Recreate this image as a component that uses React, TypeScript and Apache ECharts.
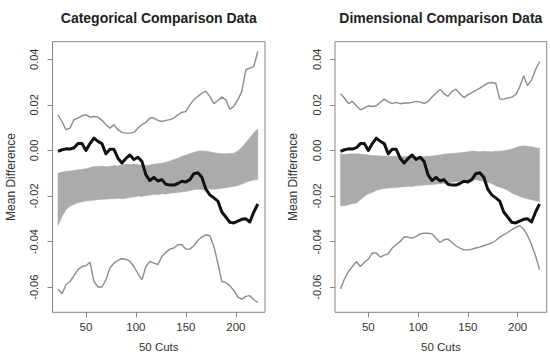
import React, { useEffect, useRef } from "react";
import * as echarts from "echarts";

// Cut positions shared by every series
const cuts = [
  22, 26, 30, 34, 38, 42, 46, 50, 54, 58, 62, 66, 70, 74, 78, 82, 86, 90, 94, 98,
  102, 106, 110, 114, 118, 122, 126, 130, 134, 138, 142, 146, 150, 154, 158, 162,
  166, 170, 174, 178, 182, 186, 190, 194, 198, 202, 206, 210, 214, 218, 222,
];

// Observed mean difference (thick black line, same in both panels)
const observedDiff = [
  -0.0004, 0.0003, 0.0007, 0.0006, 0.0012, 0.003, 0.003, 0.0, 0.003, 0.0054,
  0.004, 0.003, -0.0015, 0.0005, 0.0005, -0.0034, -0.0055, -0.0035, -0.002, -0.004,
  -0.003, -0.0048, -0.0107, -0.0132, -0.0118, -0.0134, -0.0128, -0.0148, -0.0152, -0.0152,
  -0.0145, -0.0135, -0.0138, -0.0128, -0.0102, -0.0098, -0.0118, -0.017, -0.0195, -0.0208,
  -0.0222, -0.027, -0.0292, -0.0315, -0.0318, -0.031, -0.0302, -0.03, -0.0314, -0.027,
  -0.0235,
];

// Categorical panel
const catBandHigh = [
  -0.01, -0.0095, -0.0092, -0.009, -0.0088, -0.0085, -0.0083, -0.008, -0.0075, -0.007,
  -0.007, -0.0068, -0.0072, -0.007, -0.0066, -0.0068, -0.0064, -0.006, -0.0062, -0.006,
  -0.0062, -0.0065, -0.0066, -0.0064, -0.006, -0.0058, -0.0056, -0.0052, -0.0046, -0.004,
  -0.0034, -0.0026, -0.002, -0.0014, -0.0008, -0.0004, -0.0002, -0.0003, -0.0006, -0.001,
  -0.0012, -0.0014, -0.0014, -0.0013, -0.0012, -0.0002, 0.0014, 0.0034, 0.0056, 0.0078,
  0.0095,
];
const catBandLow = [
  -0.033, -0.029, -0.026, -0.0245, -0.0236, -0.023, -0.0225, -0.0222, -0.022, -0.0218,
  -0.0216, -0.0214, -0.0214, -0.0212, -0.0212, -0.021, -0.0212, -0.021, -0.0206, -0.0204,
  -0.02, -0.0202, -0.0198, -0.0196, -0.0192, -0.0194, -0.019, -0.0192, -0.0188, -0.0186,
  -0.0184, -0.0182, -0.018, -0.0176, -0.0172, -0.017, -0.0172, -0.0168, -0.017, -0.017,
  -0.0168, -0.0166, -0.0164, -0.016, -0.0158, -0.0154, -0.0148, -0.014, -0.0134, -0.013,
  -0.0128,
];
const catUpper = [
  0.0156, 0.0127, 0.0091, 0.0098, 0.0135, 0.0142, 0.0152, 0.0156, 0.0146, 0.0149,
  0.0146, 0.0132, 0.0113, 0.0098, 0.0113, 0.0091, 0.0079, 0.0076, 0.0076, 0.0079,
  0.0098, 0.0113, 0.0123, 0.0142, 0.0142, 0.0132, 0.0127, 0.0132, 0.0135, 0.0142,
  0.0156, 0.0167, 0.0171, 0.02, 0.0222, 0.0237, 0.0251, 0.0259, 0.0237, 0.0205,
  0.0219, 0.0234, 0.0222, 0.0181, 0.0193, 0.0222, 0.0259, 0.0354, 0.0361, 0.0368,
  0.0434,
];
const catLower = [
  -0.0608, -0.0629, -0.0589, -0.0575, -0.055, -0.0523, -0.0509, -0.0506, -0.049, -0.0575,
  -0.0599, -0.0599, -0.0567, -0.0516, -0.0494, -0.0482, -0.0475, -0.0477, -0.0487, -0.0509,
  -0.0541, -0.0567, -0.0509, -0.0487, -0.0494, -0.0501, -0.0465, -0.0447, -0.0433, -0.0428,
  -0.0414, -0.0414, -0.0433, -0.0433, -0.0418, -0.0395, -0.038, -0.037, -0.0374, -0.0421,
  -0.0494, -0.0575, -0.0579, -0.0594, -0.0614, -0.0643, -0.0652, -0.064, -0.0637, -0.0655,
  -0.0667,
];

// Dimensional panel
const dimBandHigh = [
  -0.0016, -0.0018, -0.0016, -0.0015, -0.0014, -0.0016, -0.0018, -0.002, -0.0022, -0.0022,
  -0.0024, -0.0024, -0.0026, -0.0025, -0.0026, -0.0027, -0.0028, -0.0026, -0.0027, -0.0028,
  -0.0026, -0.0027, -0.0026, -0.0024, -0.0022, -0.002, -0.0016, -0.0014, -0.0013, -0.0012,
  -0.001, -0.0008, -0.0006, -0.0002, -0.0004, -0.0006, -0.0004, -0.0005, -0.0006, -0.0004,
  -0.0003, -0.0001, 0.0002, 0.0006, 0.0012, 0.0018, 0.002, 0.0018, 0.0016, 0.0012,
  0.001,
];
const dimBandLow = [
  -0.0243, -0.0243, -0.0238, -0.0234, -0.0231, -0.0216, -0.0202, -0.019, -0.0184, -0.0175,
  -0.017, -0.0167, -0.0165, -0.0164, -0.0162, -0.0161, -0.0159, -0.0158, -0.0158, -0.0155,
  -0.0154, -0.0152, -0.0151, -0.0149, -0.0148, -0.0146, -0.0145, -0.0143, -0.014, -0.0137,
  -0.0136, -0.0135, -0.0132, -0.0129, -0.0129, -0.0132, -0.0136, -0.014, -0.0146, -0.0155,
  -0.0161, -0.0167, -0.0175, -0.0187, -0.0194, -0.0202, -0.0208, -0.0212, -0.0216, -0.0221,
  -0.0225,
];
const dimUpper = [
  0.0249, 0.023, 0.0205, 0.0215, 0.0196, 0.0178, 0.0186, 0.0196, 0.0193, 0.0196,
  0.0211, 0.0225, 0.0213, 0.0205, 0.0211, 0.0205, 0.0208, 0.0208, 0.0211, 0.0215,
  0.0213, 0.0205, 0.0215, 0.0234, 0.0251, 0.0269, 0.0249, 0.0237, 0.0259, 0.0269,
  0.0249, 0.0232, 0.0244, 0.0254, 0.0263, 0.0273, 0.0284, 0.0295, 0.0298, 0.0295,
  0.0225, 0.0225, 0.023, 0.0234, 0.0244, 0.0278, 0.0327, 0.0284, 0.031, 0.0354,
  0.039,
];
const dimLower = [
  -0.0608, -0.0564, -0.0531, -0.0509, -0.0487, -0.0509, -0.0491, -0.0477, -0.045, -0.045,
  -0.0468, -0.0459, -0.0453, -0.0428, -0.0414, -0.0399, -0.038, -0.038, -0.0385, -0.0377,
  -0.0366, -0.0363, -0.0363, -0.0366, -0.0385, -0.0404, -0.0392, -0.0389, -0.0404, -0.0418,
  -0.0428, -0.0436, -0.0436, -0.0433, -0.0428, -0.0424, -0.0418, -0.0412, -0.0406, -0.0395,
  -0.038, -0.037, -0.036, -0.0348, -0.0338, -0.033, -0.0345, -0.0374, -0.0414, -0.0462,
  -0.0523,
];

const panelTitles = ["Categorical Comparison Data", "Dimensional Comparison Data"];
const yTicks = [-0.06, -0.04, -0.02, 0, 0.02, 0.04];
const xTicks = [50, 100, 150, 200];
const yName = "Mean Difference";
const xName = "50 Cuts";

const FONT = "'Liberation Sans', Arial, Helvetica, sans-serif";
const BAND = "#ababab";
const THIN = "#8c8c8c";
const AXIS = "#858585";

const pairs = (ys: number[]) => cuts.map((x, i) => [x, ys[i]]);

const panels = [
  { low: catBandLow, high: catBandHigh, upper: catUpper, lower: catLower },
  { low: dimBandLow, high: dimBandHigh, upper: dimUpper, lower: dimLower },
];

const grids = [
  { left: 52.5, right: 285, top: 41.7, bottom: 49.7 },
  { left: 335, right: 3.3, top: 41.7, bottom: 49.7 },
];

export default function App() {
  const ref = useRef<HTMLDivElement>(null);

  useEffect(() => {
    if (!ref.current) return;
    const chart = echarts.init(ref.current, undefined, { renderer: "svg" });

    const series: any[] = [];
    panels.forEach((p, i) => {
      const common = {
        xAxisIndex: i,
        yAxisIndex: i,
        silent: true,
      };
      // Shaded band: one polygon along the high edge and back along the low edge
      series.push({
        ...common,
        type: "custom",
        name: `band-${i}`,
        data: cuts.map((x, j) => [x, p.low[j], p.high[j]]),
        z: 1,
        renderItem: (params: any, api: any) => {
          if (params.dataIndex !== 0) return null;
          const top = cuts.map((x, j) => api.coord([x, p.high[j]]));
          const bottom = cuts
            .map((x, j) => api.coord([x, p.low[j]]))
            .reverse();
          return {
            type: "polygon",
            shape: { points: top.concat(bottom) },
            style: { fill: BAND, stroke: BAND, lineWidth: 0.5 },
          };
        },
      });
      series.push({
        ...common,
        type: "line",
        symbol: "none",
        name: `upper-${i}`,
        data: pairs(p.upper),
        lineStyle: { color: THIN, width: 1.4 },
        z: 3,
      });
      series.push({
        ...common,
        type: "line",
        symbol: "none",
        name: `lower-${i}`,
        data: pairs(p.lower),
        lineStyle: { color: THIN, width: 1.4 },
        z: 3,
      });
      series.push({
        ...common,
        type: "line",
        symbol: "none",
        name: `observed-${i}`,
        data: pairs(observedDiff),
        lineStyle: { color: "#111111", width: 3, join: "round" },
        z: 4,
      });
    });

    chart.setOption({
      animation: false,
      backgroundColor: "#ffffff",
      title: panelTitles.map((t, i) => ({
        text: t,
        left: i === 0 ? 158.8 : 440.8,
        top: 11,
        textAlign: "center",
        padding: 0,
        textStyle: { fontFamily: FONT, fontSize: 14, fontWeight: "bold", color: "#222" },
      })),
      grid: grids.map((g) => ({
        ...g,
        show: true,
        borderColor: AXIS,
        borderWidth: 1,
        backgroundColor: "transparent",
      })),
      xAxis: grids.map((_, i) => ({
        type: "value",
        gridIndex: i,
        min: 16.5,
        max: 229.2,
        name: xName,
        nameLocation: "middle",
        nameGap: 29,
        nameTextStyle: { fontFamily: FONT, fontSize: 11.5, color: "#333" },
        splitLine: { show: false },
        axisLine: { show: false, onZero: false },
        axisTick: {
          show: true,
          inside: false,
          length: 5,
          lineStyle: { color: AXIS },
          customValues: xTicks,
        },
        axisLabel: {
          customValues: xTicks,
          margin: 9,
          fontFamily: FONT,
          fontSize: 11.5,
          color: "#333",
        },
      })),
      yAxis: grids.map((_, i) => ({
        type: "value",
        gridIndex: i,
        min: -0.071,
        max: 0.0477,
        name: yName,
        nameLocation: "middle",
        nameGap: 36,
        nameTextStyle: { fontFamily: FONT, fontSize: 12, color: "#333" },
        splitLine: { show: false },
        axisLine: { show: false, onZero: false },
        axisTick: {
          show: true,
          inside: false,
          length: 5,
          lineStyle: { color: AXIS },
          customValues: yTicks,
        },
        axisLabel: {
          customValues: yTicks,
          rotate: 90,
          margin: 13,
          fontFamily: FONT,
          fontSize: 11,
          color: "#333",
          formatter: (v: number) => v.toFixed(2),
        },
      })),
      series,
    });

    return () => chart.dispose();
  }, []);

  return (
    <div
      ref={ref}
      style={{ position: "fixed", left: 0, top: 0, width: 550, height: 362 }}
    />
  );
}
